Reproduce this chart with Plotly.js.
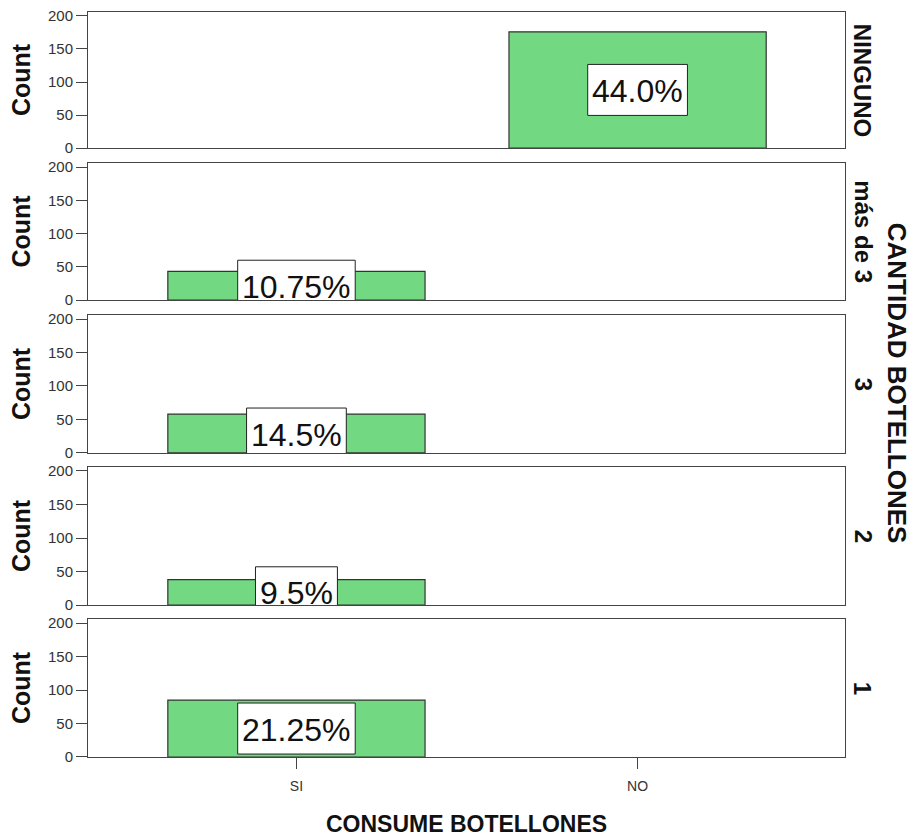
<!DOCTYPE html>
<html>
<head>
<meta charset="utf-8">
<script src="https://cdn.plot.ly/plotly-3.0.1.min.js"></script>
<style>body{margin:0;background:#fff}#chart{width:913px;height:838px}</style>
</head>
<body>
<div id="chart"></div>
<script>
// Data
const categories = ['SI', 'NO'];
const panelLabels = ['NINGUNO', 'más de 3', '3', '2', '1'];
const siCounts = [0, 43, 58, 38, 85];
const noCounts = [176, 0, 0, 0, 0];
const percentLabels = ['44.0%', '10.75%', '14.5%', '9.5%', '21.25%'];

const FONT = 'Arial, "Liberation Sans", sans-serif';
const LABEL_SIZE = 32;
const domains = [[0.8174, 1.0], [0.6134, 0.7973], [0.4081, 0.5933], [0.2040, 0.3893], [0, 0.1852]];

const ctx = document.createElement('canvas').getContext('2d');
ctx.font = LABEL_SIZE + 'px "Liberation Sans", Arial, sans-serif';

const traces = [];
const annotations = [];
const shapes = [];
const layout = {
  width: 913, height: 838,
  margin: {l: 88, r: 68, t: 12, b: 81},
  paper_bgcolor: '#fff', plot_bgcolor: '#fff',
  showlegend: false,
  font: {family: FONT, color: '#222'},
  bargap: 0
};

panelLabels.forEach((lab, i) => {
  const n = i + 1;
  const xa = 'x' + n, ya = 'y' + n;
  const xs = [], ys = [];
  [siCounts[i], noCounts[i]].forEach((v, k) => {
    if (v > 0) { xs.push(categories[k]); ys.push(v); }
  });
  traces.push({
    type: 'bar', x: xs, y: ys, xaxis: xa, yaxis: ya,
    width: 0.754,
    marker: {color: '#72d982', line: {color: '#333', width: 1.2}},
    hoverinfo: 'x+y'
  });
  xs.forEach((cx, k) => {
    const tw = ctx.measureText(percentLabels[i]).width;
    shapes.push({
      type: 'rect', layer: 'above', xref: xa, yref: ya,
      xsizemode: 'pixel', ysizemode: 'pixel',
      xanchor: categories.indexOf(cx), yanchor: ys[k] / 2,
      x0: -(tw / 2 + 4.5), x1: tw / 2 + 4.5, y0: -25.5, y1: 25.5,
      fillcolor: '#fff', line: {color: '#222', width: 1}
    });
    annotations.push({
      xref: xa, yref: ya, x: cx, y: ys[k] / 2,
      text: percentLabels[i], showarrow: false,
      font: {family: FONT, size: LABEL_SIZE, color: '#111'},
      yshift: -1
    });
  });
  annotations.push({
    xref: 'paper', yref: 'paper', x: 1.024, y: (domains[i][0] + domains[i][1]) / 2,
    text: '<b>' + lab + '</b>', showarrow: false, textangle: 90,
    font: {family: FONT, size: 24, color: '#111'}, xanchor: 'center', yanchor: 'middle'
  });
  const xKey = n === 1 ? 'xaxis' : 'xaxis' + n;
  const yKey = n === 1 ? 'yaxis' : 'yaxis' + n;
  layout[xKey] = {
    anchor: ya, domain: [0, 1], type: 'category',
    categoryorder: 'array', categoryarray: categories,
    range: [-0.611, 1.608],
    showline: true, mirror: true, linecolor: '#444', linewidth: 1,
    showgrid: false, zeroline: false,
    showticklabels: n === 5, ticks: n === 5 ? 'outside' : '',
    ticklen: 11, tickcolor: '#444', ticklabelstandoff: 5,
    tickfont: {family: FONT, size: 14, color: '#333'},
    fixedrange: true
  };
  if (n !== 1) layout[xKey].matches = 'x';
  if (n === 5) {
    layout[xKey].title = {text: '<b>CONSUME BOTELLONES</b>', font: {family: FONT, size: 23, color: '#111'}, standoff: 23};
  }
  layout[yKey] = {
    anchor: xa, domain: domains[i],
    range: [0, 206], tickvals: [0, 50, 100, 150, 200],
    showline: true, mirror: true, linecolor: '#444', linewidth: 1,
    showgrid: false, zeroline: false,
    ticks: 'outside', ticklen: 11, tickcolor: '#444',
    tickfont: {family: FONT, size: 15, color: '#333'},
    title: {text: '<b>Count</b>', font: {family: FONT, size: 25, color: '#111'}, standoff: 10},
    fixedrange: true
  };
});

annotations.push({
  xref: 'paper', yref: 'paper', x: 1.069, y: 0.502,
  text: '<b>CANTIDAD BOTELLONES</b>', showarrow: false, textangle: 90,
  font: {family: FONT, size: 26, color: '#111'}, xanchor: 'center', yanchor: 'middle'
});
layout.annotations = annotations;
layout.shapes = shapes;

Plotly.newPlot('chart', traces, layout, {displayModeBar: false, staticPlot: true});
</script>
</body>
</html>
